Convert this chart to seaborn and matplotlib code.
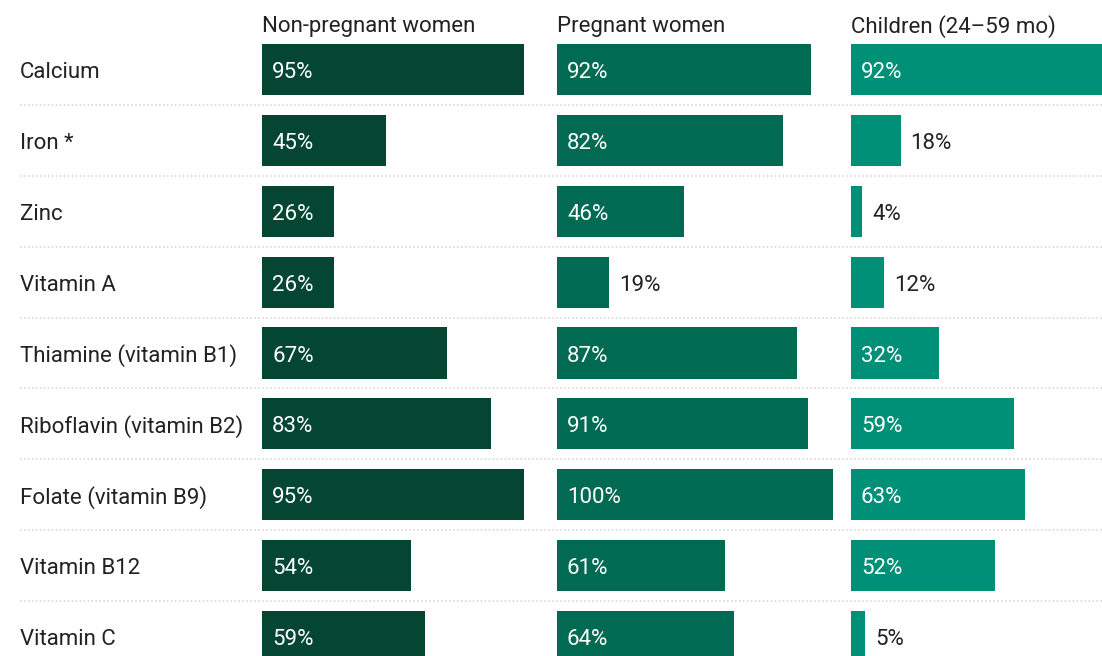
import matplotlib
matplotlib.use("Agg")
import matplotlib.pyplot as plt
import seaborn as sns
import pandas as pd

nutrients = [
    "Calcium", "Iron *", "Zinc", "Vitamin A", "Thiamine (vitamin B1)",
    "Riboflavin (vitamin B2)", "Folate (vitamin B9)", "Vitamin B12", "Vitamin C",
]
groups = ["Non-pregnant women", "Pregnant women", "Children (24\u201359 mo)"]
non_pregnant = [95, 45, 26, 26, 67, 83, 95, 54, 59]
pregnant = [92, 82, 46, 19, 87, 91, 100, 61, 64]
children = [92, 18, 4, 12, 32, 59, 63, 52, 5]
group_colors = ["#044632", "#006a52", "#009077"]

sns.set_theme(style="white")
plt.rcParams["font.family"] = ["Roboto", "DejaVu Sans"]
TEXT = "#222222"
FS = 16.0

W, H = 1102, 656
fig = plt.figure(figsize=(W / 100, H / 100), dpi=100)

# row geometry (pixels)
row_top_center = 69.5
row_pitch = 70.875
ylim = ((H - row_top_center) / row_pitch, -row_top_center / row_pitch)
text_shift = 3 / row_pitch  # nudge labels down onto the optical centre of each bar
pt_shift = -2.2             # same nudge in points, for offset annotations

# background layer: category names and dotted row separators
bg = fig.add_axes([0, 0, 1, 1])
bg.set_xlim(0, W)
bg.set_ylim(*ylim)
bg.axis("off")
for i, name in enumerate(nutrients):
    bg.text(20, i + text_shift, name, ha="left", va="center", fontsize=FS, color=TEXT)
for i in range(len(nutrients) - 1):
    bg.plot([20, W], [i + 0.5, i + 0.5], color="#d2d2d2", lw=1.1,
            linestyle=(0, (1, 1.6)), solid_capstyle="butt")

panel_left = [262, 557, 851]
panel_width = 276
series = [non_pregnant, pregnant, children]

for g, (name, vals, col, left) in enumerate(zip(groups, series, group_colors, panel_left)):
    df = pd.DataFrame({"nutrient": nutrients, "value": vals})
    ax = fig.add_axes([left / W, 0, panel_width / W, 1])
    sns.barplot(data=df, y="nutrient", x="value", orient="h", color=col,
                saturation=1, width=0.72, ax=ax)
    for p in ax.patches:
        p.set_edgecolor("none")
    ax.set_xlim(0, 100)
    ax.set_ylim(*ylim)
    ax.axis("off")
    ax.patch.set_alpha(0)
    ax.text(0.003, (24 - row_top_center) / row_pitch + text_shift, name, ha="left",
            va="center", fontsize=FS, color=TEXT, clip_on=False)
    for i, v in enumerate(vals):
        if v > 20:
            ax.annotate(f"{v}%", xy=(0, i), xytext=(7.2, pt_shift), textcoords="offset points",
                        ha="left", va="center", fontsize=FS, color="white")
        else:
            ax.annotate(f"{v}%", xy=(v, i), xytext=(7.2, pt_shift), textcoords="offset points",
                        ha="left", va="center", fontsize=FS, color=TEXT)

fig.savefig("out.png", dpi=100)
